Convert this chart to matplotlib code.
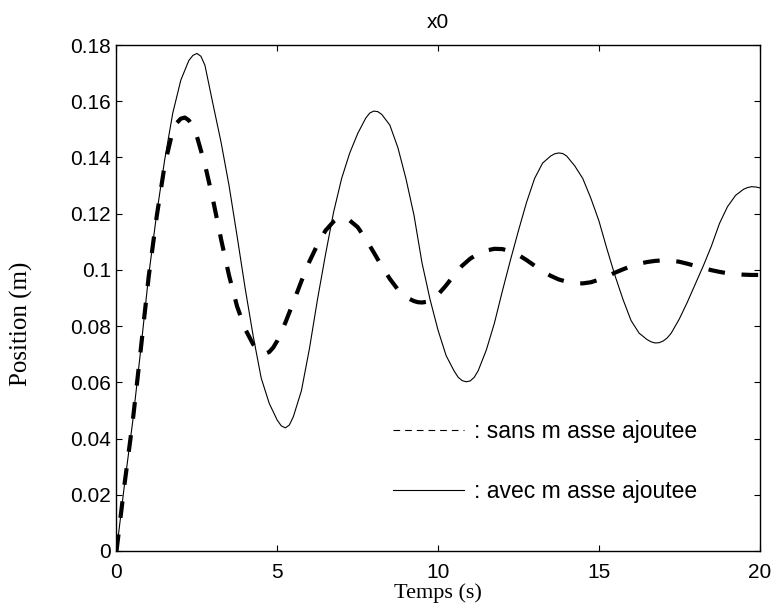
import numpy as np
import matplotlib as mpl
mpl.use("Agg")
import matplotlib.pyplot as plt
from matplotlib.lines import Line2D
from matplotlib.ticker import FormatStrFormatter

# sans masse ajoutee : temps (s) et position (m)
t_sans = [0.00, 0.25, 0.50, 0.75, 1.00, 1.25, 1.50, 1.75, 1.875, 2.00,
          2.125, 2.25, 2.375, 2.50, 2.75, 3.00, 3.25, 3.50, 3.75, 4.00,
          4.25, 4.375, 4.50, 4.625, 4.75, 4.875, 5.00, 5.25, 5.50, 5.75,
          6.00, 6.25, 6.50, 6.75, 6.875, 7.00, 7.125, 7.25, 7.50, 7.75,
          8.00, 8.25, 8.50, 8.75, 9.00, 9.25, 9.375, 9.50, 9.625, 9.75,
          10.00, 10.25, 10.50, 10.75, 11.00, 11.25, 11.50, 11.75, 12.00, 12.25,
          12.50, 12.75, 13.00, 13.25, 13.50, 13.75, 14.00, 14.25, 14.50, 14.75,
          15.00, 15.25, 15.50, 15.75, 16.00, 16.25, 16.50, 16.75, 17.00, 17.25,
          17.50, 17.75, 18.00, 18.25, 18.50, 18.75, 19.00, 19.25, 19.50, 19.75,
          20.00]
x_sans = [0.0, 0.0238, 0.0457, 0.0712, 0.0975, 0.1190, 0.1375, 0.1495, 0.1523, 0.1538,
          0.1542, 0.1532, 0.1510, 0.1475, 0.1375, 0.1250, 0.1110, 0.0980, 0.0870, 0.0790,
          0.0735, 0.0716, 0.0705, 0.0702, 0.0708, 0.0724, 0.0748, 0.0812, 0.0885, 0.0960,
          0.1030, 0.1090, 0.1140, 0.1172, 0.1182, 0.1186, 0.1184, 0.1176, 0.1152, 0.1110,
          0.1062, 0.1013, 0.0968, 0.0930, 0.0903, 0.0889, 0.0885, 0.0884, 0.0886, 0.0892,
          0.0912, 0.0945, 0.0982, 0.1015, 0.1040, 0.1058, 0.1069, 0.1075, 0.1074, 0.1066,
          0.1053, 0.1035, 0.1015, 0.0996, 0.0979, 0.0966, 0.0958, 0.0953, 0.0952, 0.0956,
          0.0965, 0.0977, 0.0990, 0.1002, 0.1013, 0.1022, 0.1028, 0.1032, 0.1034, 0.1033,
          0.1029, 0.1022, 0.1014, 0.1006, 0.0999, 0.0993, 0.0988, 0.0985, 0.0983, 0.0982,
          0.0982]

# avec masse ajoutee : temps (s) et position (m)
t_avec = [0.00, 0.25, 0.50, 0.75, 1.00, 1.25, 1.50, 1.75, 2.00, 2.25,
          2.375, 2.50, 2.625, 2.75, 3.00, 3.25, 3.50, 3.75, 4.00, 4.25,
          4.50, 4.75, 5.00, 5.125, 5.25, 5.375, 5.50, 5.75, 6.00, 6.25,
          6.50, 6.75, 7.00, 7.25, 7.50, 7.75, 7.875, 8.00, 8.125, 8.25,
          8.50, 8.75, 9.00, 9.25, 9.50, 9.75, 10.00, 10.25, 10.50, 10.625,
          10.75, 10.875, 11.00, 11.125, 11.25, 11.50, 11.75, 12.00, 12.25, 12.50,
          12.75, 13.00, 13.25, 13.50, 13.625, 13.75, 13.875, 14.00, 14.25, 14.50,
          14.75, 15.00, 15.25, 15.50, 15.75, 16.00, 16.25, 16.50, 16.625, 16.75,
          16.875, 17.00, 17.125, 17.25, 17.50, 17.75, 18.00, 18.25, 18.50, 18.75,
          19.00, 19.25, 19.50, 19.625, 19.75, 19.875, 20.00]
x_avec = [0.0, 0.0238, 0.0457, 0.0712, 0.0980, 0.1200, 0.1393, 0.1558, 0.1675, 0.1745,
          0.1763, 0.1770, 0.1760, 0.1728, 0.1590, 0.1455, 0.1300, 0.1120, 0.0935, 0.0765,
          0.0615, 0.0525, 0.0465, 0.0445, 0.0438, 0.0448, 0.0478, 0.0570, 0.0720, 0.0895,
          0.1055, 0.1205, 0.1325, 0.1415, 0.1485, 0.1540, 0.1558, 0.1565, 0.1563, 0.1553,
          0.1515, 0.1435, 0.1325, 0.1195, 0.1025, 0.0895, 0.0785, 0.0695, 0.0640, 0.0618,
          0.0606, 0.0602, 0.0605, 0.0618, 0.0642, 0.0715, 0.0810, 0.0925, 0.1035, 0.1140,
          0.1240, 0.1325, 0.1380, 0.1405, 0.1413, 0.1416, 0.1414, 0.1405, 0.1370, 0.1325,
          0.1255, 0.1175, 0.1075, 0.0980, 0.0895, 0.0820, 0.0775, 0.0752, 0.0744, 0.0740,
          0.0741, 0.0747, 0.0758, 0.0775, 0.0825, 0.0885, 0.0950, 0.1015, 0.1085, 0.1165,
          0.1225, 0.1265, 0.1287, 0.1293, 0.1296, 0.1295, 0.1292]

xticks = [0, 5, 10, 15, 20]
yticks = [0, 0.02, 0.04, 0.06, 0.08, 0.1, 0.12, 0.14, 0.16, 0.18]
labels = [": sans m asse ajoutee", ": avec m asse ajoutee"]

style = {
    "font.family": "Liberation Sans",
    "font.size": 15,
    "xtick.labelsize": 15,
    "ytick.labelsize": 15,
    "xtick.direction": "in",
    "ytick.direction": "in",
    "xtick.top": True,
    "ytick.right": True,
    "xtick.major.size": 4.5,
    "ytick.major.size": 4.5,
    "xtick.major.width": 0.8,
    "ytick.major.width": 0.8,
    "xtick.major.pad": 9,
    "ytick.major.pad": 4,
    "axes.linewidth": 1.0,
}
mpl.rcParams.update(style)

fig = plt.figure(figsize=(7.71, 6.06), dpi=100)
ax = fig.add_axes([0.1511, 0.0908, 0.8342, 0.8349])

ax.plot(t_sans, x_sans, color="black", lw=3.0, ls=(0, (4.0, 4.0)))
ax.plot(t_avec, x_avec, color="black", lw=0.8)

ax.set_xlim(0, 20)
ax.set_ylim(0, 0.18)
ax.set_xticks(xticks)
ax.set_yticks(yticks)
ax.yaxis.set_major_formatter(FormatStrFormatter("%g"))

ax.set_title("x0", fontsize=15, pad=12)
ax.set_xlabel("Temps (s)", family="Liberation Serif", fontsize=16)
ax.xaxis.set_label_coords(0.5, -0.064)
ax.set_ylabel("Position (m)", family="Liberation Serif", fontsize=18)
ax.yaxis.set_label_coords(-0.13, 0.449)

handles = [Line2D([], [], color="black", lw=0.8, ls=(0, (6, 4.5))),
           Line2D([], [], color="black", lw=0.8)]
ax.legend(handles, labels, loc="center left", bbox_to_anchor=(0.43, 0.177),
          frameon=False, fontsize=16.5, handlelength=3.1, handletextpad=0.45,
          labelspacing=1.6, borderpad=0, borderaxespad=0)

fig.savefig("out.png", dpi=100)
